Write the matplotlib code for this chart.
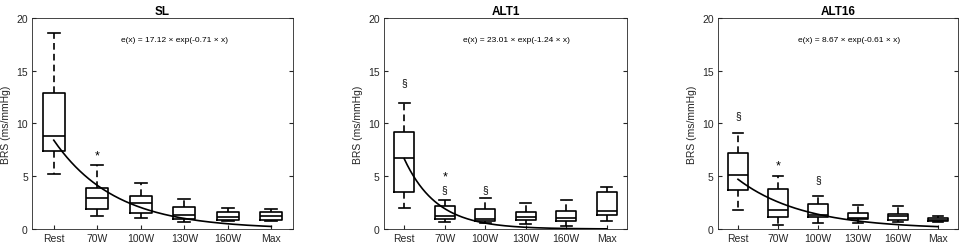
import numpy as np
import matplotlib.pyplot as plt

plt.rcParams["font.family"] = ["Liberation Sans", "DejaVu Sans"]

categories = ["Rest", "70W", "100W", "130W", "160W", "Max"]
panels = ["SL", "ALT1", "ALT16"]

# box stats per panel: (low whisker, Q1, median, Q3, high whisker) for each stage
sl_stats = [
    (5.25, 7.4, 8.85, 12.9, 18.6),
    (1.26, 1.9, 2.95, 3.85, 6.1),
    (1.0, 1.55, 2.5, 3.16, 4.33),
    (0.63, 0.92, 1.36, 2.05, 2.85),
    (0.73, 0.85, 1.1, 1.64, 1.96),
    (0.8, 0.88, 1.26, 1.64, 1.9),
]
alt1_stats = [
    (1.96, 3.48, 6.73, 9.23, 11.94),
    (0.7, 0.95, 1.26, 2.2, 2.75),
    (0.57, 0.73, 0.95, 1.9, 2.9),
    (0.47, 0.82, 1.1, 1.64, 2.5),
    (0.25, 0.79, 1.0, 1.7, 2.72),
    (0.8, 1.36, 1.74, 3.48, 4.0),
]
alt16_stats = [
    (1.83, 3.73, 5.12, 7.2, 9.1),
    (0.35, 1.17, 1.8, 3.8, 5.05),
    (0.57, 1.17, 1.33, 2.37, 3.16),
    (0.54, 0.92, 1.07, 1.55, 2.3),
    (0.63, 0.85, 1.23, 1.42, 2.18),
    (0.63, 0.73, 0.88, 1.04, 1.23),
]

# fit parameters e(x) = a * exp(b * x)
fit_a = [17.12, 23.01, 8.67]
fit_b = [-0.71, -1.24, -0.61]

# significance marks: (position, y, symbol)
sl_marks = [(2, 7.0, "*")]
alt1_marks = [(1, 13.9, "§"), (2, 5.0, "*"), (2, 3.8, "§"), (3, 3.8, "§")]
alt16_marks = [(1, 10.8, "§"), (2, 6.0, "*"), (3, 4.74, "§")]

all_stats = [sl_stats, alt1_stats, alt16_stats]
all_marks = [sl_marks, alt1_marks, alt16_marks]

axes_pos = [
    [0.0332, 0.0837, 0.2708, 0.8407],
    [0.3983, 0.0837, 0.2521, 0.8407],
    [0.7448, 0.0837, 0.2490, 0.8407],
]

fig = plt.figure(figsize=(9.64, 2.51), dpi=100)
edge = "#262626"

for i, name in enumerate(panels):
    ax = fig.add_axes(axes_pos[i])
    stats = []
    for lo, q1, med, q3, hi in all_stats[i]:
        stats.append({"whislo": lo, "q1": q1, "med": med, "q3": q3, "whishi": hi, "fliers": []})
    pos = np.arange(1, len(categories) + 1)
    ax.bxp(stats, positions=pos, widths=0.5, showfliers=False,
           boxprops=dict(color="black", linewidth=1.2),
           medianprops=dict(color="black", linewidth=1.2),
           whiskerprops=dict(color="black", linewidth=1.2, linestyle=(0, (4, 2.5))),
           capprops=dict(color="black", linewidth=1.2),
           capwidths=0.27)
    xs = np.linspace(1, 6, 200)
    ax.plot(xs, fit_a[i] * np.exp(fit_b[i] * xs), color="black", linewidth=1.2)
    for p, y, s in all_marks[i]:
        if s == "*":
            ax.text(p, y, s, ha="center", va="center", fontsize=9, color="black")
        else:
            ax.text(p, y, s, ha="center", va="center", fontsize=7.5, color="black")
    ax.text(3.77, 18.0, f"e(x) = {fit_a[i]:.2f} × exp({fit_b[i]:.2f} × x)",
            ha="center", va="center", fontsize=6, color="black")
    ax.set_xlim(0.5, 6.5)
    ax.set_ylim(0, 20)
    ax.set_yticks([0, 5, 10, 15, 20])
    ax.set_xticks(pos)
    ax.set_xticklabels(categories)
    ax.tick_params(direction="in", length=3, labelsize=7.5, colors=edge,
                   right=True, top=False, pad=3)
    ax.set_ylabel("BRS (ms/mmHg)", fontsize=7.5, color=edge, labelpad=4)
    ax.set_title(name, fontsize=8.5, fontweight="bold", pad=3)
    for sp in ax.spines.values():
        sp.set_color(edge)
        sp.set_linewidth(0.6)

fig.savefig("out.png", dpi=100)
